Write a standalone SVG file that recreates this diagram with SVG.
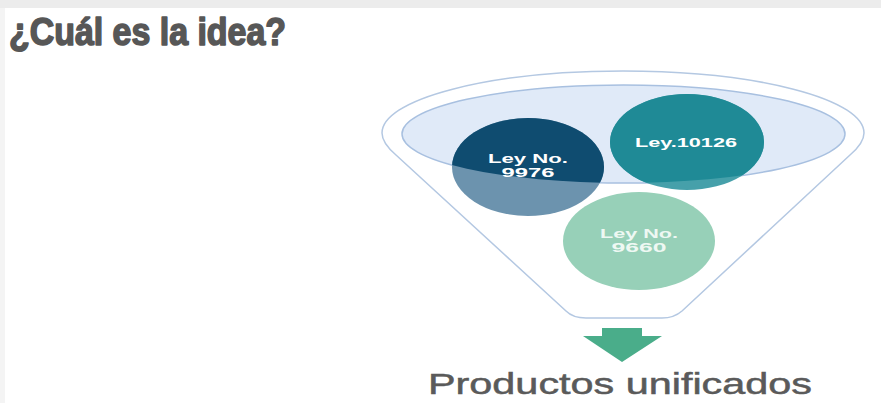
<svg xmlns="http://www.w3.org/2000/svg" width="881" height="403" viewBox="0 0 881 403">
  <style>
    .title { font-family: "Liberation Sans", Arial, sans-serif; font-weight: bold; font-size: 38px; fill: #575757; stroke: #575757; stroke-width: 1.6px; stroke-linejoin: round; }
    .lbl { font-family: "Liberation Sans", Arial, sans-serif; font-weight: bold; font-size: 12px; fill: #ffffff; text-anchor: middle; }
    .out { font-family: "Liberation Sans", Arial, sans-serif; font-size: 30px; fill: #5a5a5a; stroke: #5a5a5a; stroke-width: 0.5px; }
  </style>
  <defs>
    <clipPath id="inner">
      <ellipse cx="623.5" cy="134" rx="221.5" ry="49"/>
    </clipPath>
  </defs>
  <rect x="0" y="0" width="881" height="403" fill="#ffffff"/>
  <rect x="0" y="0" width="881" height="8" fill="#ececec"/>
  <rect x="0" y="8" width="5" height="395" fill="#f4f4f4"/>

  <g id="title">
    <text class="title" x="9" y="45" textLength="277" lengthAdjust="spacingAndGlyphs">¿Cuál es la idea?</text>
  </g>

  <g id="funnel">
    <path d="M 382,133 A 241,62 0 0 1 864,133 Q 864,143 850,155 L 682,311 Q 674,318 662,318 L 586,318 Q 573,318 566,311 L 396,155 Q 382,143 382,133 Z" fill="#ffffff" stroke="#b4c8e2" stroke-width="1.5"/>
    <ellipse cx="623.5" cy="134" rx="221.5" ry="49" fill="#e0eaf8" stroke="#a8c0e0" stroke-width="1.5"/>
  </g>

  <g id="node-9976">
    <ellipse cx="528" cy="167" rx="76" ry="49" fill="#6c93ae"/>
    <ellipse cx="528" cy="167" rx="76" ry="49" fill="#0f4c70" clip-path="url(#inner)"/>
    <text class="lbl" x="528" y="163" textLength="80" lengthAdjust="spacingAndGlyphs">Ley No.</text>
    <text class="lbl" x="528" y="177" textLength="53" lengthAdjust="spacingAndGlyphs">9976</text>
  </g>

  <g id="node-10126">
    <ellipse cx="687" cy="142" rx="77" ry="48" fill="#46a0aa"/>
    <ellipse cx="687" cy="142" rx="77" ry="48" fill="#1f8a96" clip-path="url(#inner)"/>
    <text class="lbl" x="686" y="147" textLength="102" lengthAdjust="spacingAndGlyphs">Ley.10126</text>
  </g>

  <g id="node-9660">
    <ellipse cx="639" cy="241" rx="76" ry="49" fill="#97d0b8"/>
    <text class="lbl" x="639" y="238" style="fill:#eef8f3" textLength="78" lengthAdjust="spacingAndGlyphs">Ley No.</text>
    <text class="lbl" x="639" y="252" style="fill:#eef8f3" textLength="55" lengthAdjust="spacingAndGlyphs">9660</text>
  </g>

  <g id="connectors">
    <path d="M 602,328 L 642,328 L 642,336 L 662,336 L 622,362 L 583,336 L 602,336 Z" fill="#4aad8a"/>
  </g>

  <g id="output">
    <text class="out" x="428" y="394" textLength="384" lengthAdjust="spacingAndGlyphs">Productos unificados</text>
  </g>
</svg>
